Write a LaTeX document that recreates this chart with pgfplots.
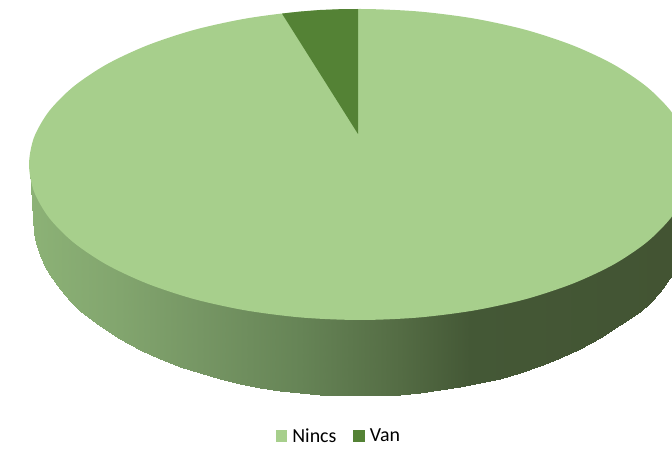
\documentclass[border=0pt]{standalone}
\usepackage{fontspec}
\setmainfont{Carlito}
\usepackage{pgfplots}
\pgfplotsset{compat=1.18}
\definecolor{nincs}{RGB}{167,207,140}
\definecolor{van}{RGB}{84,130,53}
\begin{document}
\begin{tikzpicture}
\begin{axis}[
  scale only axis, width=672bp, height=450bp,
  xmin=0, xmax=672, ymin=0, ymax=450, y dir=reverse,
  hide axis, clip=true,
  colormap={rim}{rgb255(30)=(140,178,118) rgb255(120)=(130,165,110) rgb255(200)=(118,150,100) rgb255(300)=(102,132,86) rgb255(400)=(84,108,68) rgb255(470)=(68,88,54) rgb255(672)=(67,84,51)},
  point meta min=30, point meta max=672,
  legend columns=2,
  legend style={draw=none, fill=none, at={(axis cs:339,436)}, anchor=center,
    font=\fontsize{20}{22}\selectfont, inner sep=0pt,
    /tikz/every odd column/.append style={column sep=3bp},
    /tikz/every even column/.append style={column sep=15bp}},
  legend image code/.code={\fill[#1] (0bp,-6bp) rectangle (11.5bp,6bp);},
]
% rim of the disc: upper row stays hidden under the top face
\addplot[surf, shader=interp, mesh/rows=2, point meta=x, forget plot] table {
x y
30 170
33 170
34 170
36 170
40 170
45 170
50 170
60 170
70 170
80 170
100 170
120 170
140 170
160 170
180 170
200 170
220 170
240 170
260 170
280 170
300 170
320 170
340 170
360 170
380 170
400 170
420 170
440 170
460 170
480 170
500 170
520 170
540 170
560 170
580 170
600 170
620 170
640 170
650 170
660 170
672 170
30 170
33 219
34 232.8
36 243
40 255.5
45 266.6
50 275.4
60 289.5
70 300.9
80 310.6
100 326.5
120 339.4
140 350.1
160 359.2
180 366.9
200 373.5
220 379.1
240 383.8
260 387.6
280 390.7
300 393.1
320 394.7
340 395.7
360 396
380 395.6
400 394.6
420 392.9
440 390.5
460 387.3
480 383.3
500 378.6
520 372.9
540 366.2
560 358.3
580 349.1
600 338.2
620 325.1
640 312
650 303
660 292
672 275
};
% top face, share "Nincs"
\addplot[fill=nincs, draw=none, smooth cycle] coordinates {
(691,164.5) (686,137.5) (671,111.3) (646.7,86.75) (613.6,64.5) (572.8,45.4)
(525.5,29.8) (473.2,18.4) (417.5,11.4) (360,9) (302.5,11.4) (246.8,18.4)
(194.5,29.8) (147.2,45.4) (106.4,64.5) (73.3,86.75) (49,111.3) (34,137.5)
(29,164.5) (34,191.5) (49,217.7) (73.3,242.25) (106.4,264.5) (147.2,283.6)
(194.5,299.2) (246.8,310.6) (302.5,317.6) (360,320) (417.5,317.6) (473.2,310.6)
(525.5,299.2) (572.8,283.6) (613.6,264.5) (646.7,242.25) (671,217.7) (686,191.5)
};
\addlegendentry{Nincs}
% top face, share "Van"
\addplot[fill=van, draw=none] coordinates {
(358,134) (282,13.6) (300,11.6) (320,10) (340,9.2) (358,9)
} -- cycle;
\addlegendentry{Van}
\end{axis}
% the page is exactly the axis box; the disc runs past its right edge
\pgfresetboundingbox
\useasboundingbox (current axis.south west) rectangle (current axis.north east);
\end{tikzpicture}
\end{document}
